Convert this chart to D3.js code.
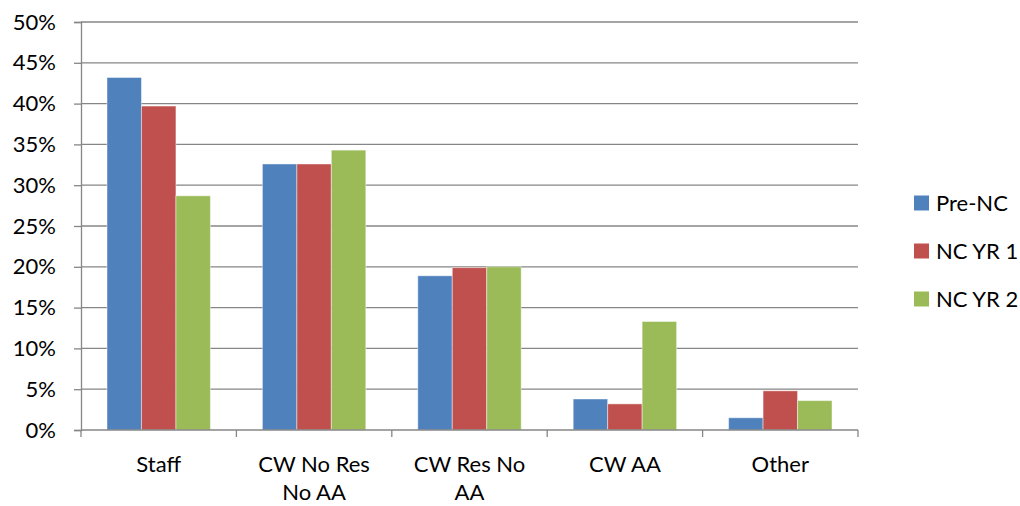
<!DOCTYPE html>
<html>
<head>
<meta charset="utf-8">
<script src="https://cdn.jsdelivr.net/npm/d3@7"></script>
<style>
  html, body { margin: 0; padding: 0; background: #fff; }
  svg { display: block; font-family: Lato, "Open Sans", sans-serif; }
</style>
</head>
<body>
<svg id="chart" width="1020" height="506"></svg>
<script>
// Share of respondents by category, per period
const categories = [["Staff"], ["CW No Res", "No AA"], ["CW Res No", "AA"], ["CW AA"], ["Other"]];
const seriesNames = ["Pre-NC", "NC YR 1", "NC YR 2"];
const preNC = [43.2, 32.6, 18.9, 3.8, 1.5];
const ncYr1 = [39.7, 32.6, 19.9, 3.2, 4.8];
const ncYr2 = [28.7, 34.3, 20.0, 13.3, 3.6];
const yTicks = [0, 5, 10, 15, 20, 25, 30, 35, 40, 45, 50];
const colors = ["#4F81BD", "#C0504D", "#9BBB59"];

const seriesValues = [preNC, ncYr1, ncYr2];
const svg = d3.select("#chart");
const plotLeft = 81, plotRight = 858, plotTop = 22, plotBottom = 430;
const fontSize = 22;

const x = d3.scaleBand().domain(d3.range(categories.length)).range([plotLeft, plotRight]).padding(0);
const xInner = d3.scaleBand().domain(d3.range(seriesNames.length))
  .range([26, x.bandwidth() - 26]).padding(0);
const y = d3.scaleLinear().domain([0, 50]).range([plotBottom, plotTop]);

// horizontal gridlines
svg.append("g")
  .selectAll("line").data(yTicks.filter(d => d > 0)).join("line")
  .attr("x1", plotLeft).attr("x2", plotRight)
  .attr("y1", d => y(d)).attr("y2", d => y(d))
  .attr("stroke", "#868686").attr("stroke-width", 1.3);

// y axis
const yAxis = svg.append("g").attr("transform", `translate(${plotLeft},0)`)
  .call(d3.axisLeft(y).tickValues(yTicks).tickFormat(d => d + "%").tickSize(7).tickPadding(18));
yAxis.select(".domain").attr("stroke", "#868686").attr("stroke-width", 1.3);
yAxis.selectAll(".tick line").attr("stroke", "#868686").attr("stroke-width", 1.3);
yAxis.selectAll("text").attr("font-size", fontSize).attr("fill", "#000").attr("font-family", "Lato, sans-serif");

// bars
const groups = svg.append("g").selectAll("g").data(categories).join("g")
  .attr("transform", (d, i) => `translate(${x(i)},0)`);
groups.selectAll("rect")
  .data((d, i) => seriesValues.map((vals, s) => ({ s, v: vals[i] })))
  .join("rect")
  .attr("x", d => xInner(d.s))
  .attr("width", xInner.bandwidth())
  .attr("y", d => y(d.v))
  .attr("height", d => y(0) - y(d.v))
  .attr("fill", (d) => colors[d.s])
  .attr("stroke", "rgba(255,255,255,0.45)")
  .attr("stroke-width", 1);

// x axis
const xAxis = svg.append("g").attr("transform", `translate(0,${plotBottom})`);
xAxis.append("line").attr("x1", plotLeft).attr("x2", plotRight).attr("y1", 0).attr("y2", 0)
  .attr("stroke", "#868686").attr("stroke-width", 1.3);
xAxis.selectAll("line.tk").data(d3.range(categories.length + 1)).join("line")
  .attr("class", "tk")
  .attr("x1", i => plotLeft + i * x.step()).attr("x2", i => plotLeft + i * x.step())
  .attr("y1", 0).attr("y2", 7)
  .attr("stroke", "#868686").attr("stroke-width", 1.3);
xAxis.selectAll("text").data(categories).join("text")
  .attr("x", (d, i) => x(i) + x.bandwidth() / 2)
  .attr("y", 42)
  .attr("text-anchor", "middle")
  .attr("font-size", fontSize)
  .attr("fill", "#000")
  .each(function (lines) {
    d3.select(this).selectAll("tspan").data(lines).join("tspan")
      .attr("x", d3.select(this).attr("x"))
      .attr("dy", (l, j) => j === 0 ? 0 : 28)
      .text(l => l);
  });

// legend
const legend = svg.append("g").selectAll("g").data(seriesNames).join("g")
  .attr("transform", (d, i) => `translate(914,${203 + i * 48})`);
legend.append("rect").attr("x", 0).attr("y", -7.5).attr("width", 15).attr("height", 15)
  .attr("fill", (d, i) => colors[i]);
legend.append("text").attr("x", 22).attr("y", 8).attr("font-size", fontSize).attr("fill", "#000")
  .text(d => d);
</script>
</body>
</html>
